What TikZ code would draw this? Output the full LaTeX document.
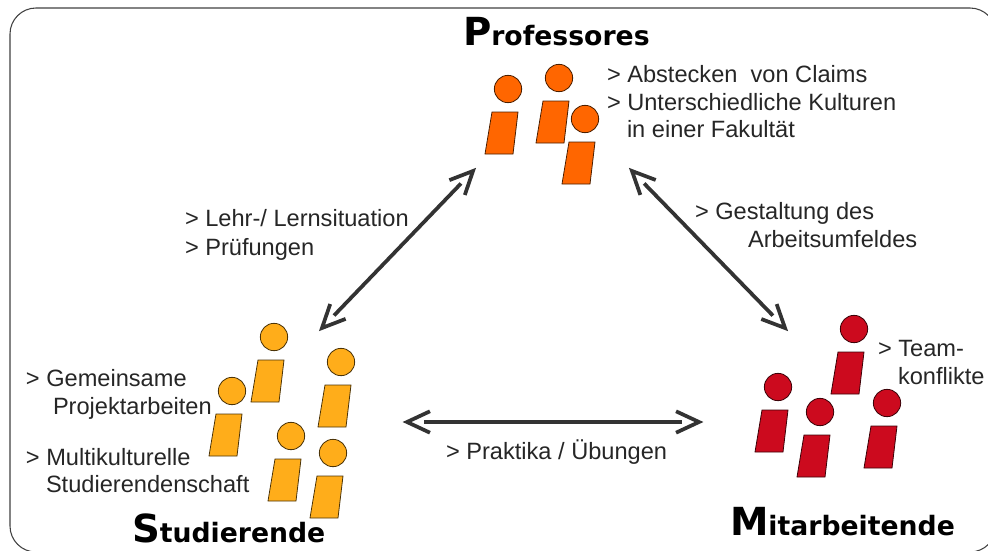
\documentclass[tikz,border=0pt]{standalone}
\usepackage{fontspec}
\setmainfont{Liberation Sans}
\newfontfamily\titlefont{DejaVu Sans Bold}
\usetikzlibrary{calc}
\definecolor{prof}{HTML}{FF6600}
\definecolor{stud}{HTML}{FFAD1A}
\definecolor{mit}{HTML}{CC0A1E}
\definecolor{conn}{HTML}{333333}
\newcommand{\bigtitle}[2]{{\titlefont\fontsize{29pt}{29pt}\selectfont #1\fontsize{20pt}{20pt}\selectfont #2}}
\newcommand{\person}[4]{%
  \node[head,fill=#1,draw=black!70!#1] (#4h) at (#2,#3) {};
  \filldraw[fill=#1,draw=black!70!#1,line width=.6pt] ($(#2,#3)+(-16,23)$) -- ($(#2,#3)+(10,23)$) -- ($(#2,#3)+(5,65)$) -- ($(#2,#3)+(-23,65)$) -- cycle;
}
\newcommand{\twoway}[2]{%
  \draw[shaft] (#1) -- (#2);
  \draw[barb] ($(#1)!19pt!25:(#2)$) -- (#1) -- ($(#1)!19pt!-25:(#2)$);
  \draw[barb] ($(#2)!19pt!25:(#1)$) -- (#2) -- ($(#2)!19pt!-25:(#1)$);
}
\tikzset{
  head/.style={circle,line width=.6pt,minimum size=20.5pt,inner sep=0pt,outer sep=0pt},
  label/.style={anchor=base west,inner sep=0pt,outer sep=0pt,font=\fontsize{17.7pt}{17.7pt}\selectfont,text=black!85},
  ttl/.style={anchor=base west,inner sep=0pt,outer sep=0pt},
  shaft/.style={draw=conn,line width=2.8pt,shorten <=13pt,shorten >=13pt},
  barb/.style={draw=conn,line width=2.8pt,line join=miter,miter limit=10},
}
\begin{document}
\begin{tikzpicture}[x=.75pt,y=-.75pt]
\useasboundingbox (0,0) rectangle (988,550);
\begin{scope}
\clip (0,0) rectangle (988,550);
\draw[black!75,line width=.8pt,rounded corners=19.5pt] (10,8) rectangle (996,552);
\end{scope}
\person{prof}{508}{89}{pa}
\person{prof}{559}{78}{pb}
\person{prof}{585}{119}{pc}
\person{stud}{274}{337}{sa}
\person{stud}{341}{362}{sb}
\person{stud}{232}{391}{sc}
\person{stud}{291}{436}{sd}
\person{stud}{333}{453}{se}
\person{mit}{854}{329}{ma}
\person{mit}{778}{387}{mb}
\person{mit}{820}{412}{mc}
\person{mit}{887}{403}{md}
\coordinate (l1) at (473,171); \coordinate (l2) at (322,328);
\coordinate (r1) at (632,171); \coordinate (r2) at (785,328);
\coordinate (b1) at (407,422); \coordinate (b2) at (699,422);
\twoway{l1}{l2}
\twoway{r1}{r2}
\twoway{b1}{b2}
\node[ttl] (tp) at (463,45) {\bigtitle{P}{rofessores}};
\node[ttl] (ts) at (132,542) {\bigtitle{S}{tudierende}};
\node[ttl] (tm) at (730,535) {\bigtitle{M}{itarbeitende}};
\node[label] (a1) at (607,82) {> Abstecken\ \ von Claims};
\node[label] (a2) at (607,110) {> Unterschiedliche Kulturen};
\node[label] (a3) at (627,137) {in einer Fakultät};
\node[label] (b1t) at (185,226) {> Lehr-/ Lernsituation};
\node[label] (b2t) at (185,255) {> Prüfungen};
\node[label] (c1) at (695,219) {> Gestaltung des};
\node[label] (c2) at (748,247) {Arbeitsumfeldes};
\node[label] (d1) at (878,356) {> Team-};
\node[label] (d2) at (898,384) {konflikte};
\node[label] (e1) at (26,386) {> Gemeinsame};
\node[label] (e2) at (53,414) {Projektarbeiten};
\node[label] (e3) at (26,465) {> Multikulturelle};
\node[label] (e4) at (46,492) {Studierendenschaft};
\node[label] (f1) at (446,459) {> Praktika / Übungen};
\end{tikzpicture}
\end{document}
